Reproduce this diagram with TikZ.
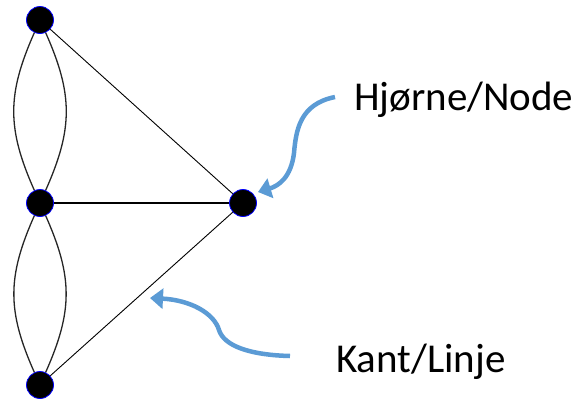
\documentclass[tikz,border=0pt]{standalone}
\usepackage{fontspec}
\setmainfont{Carlito}
\usetikzlibrary{arrows.meta}
\definecolor{pilblue}{HTML}{5B9BD5}

\begin{document}
\begin{tikzpicture}[
  x=1pt, y=-1pt,
  vtx/.style={circle, fill=black, draw=blue, line width=0.8pt, minimum size=27pt, inner sep=0pt},
  ln/.style={black, line width=0.9pt},
  bue/.style={black!85, line width=1.3pt},
  pil/.style={pilblue, line width=4.5pt, -{Triangle[length=13pt, width=20pt]}},
  lbl/.style={anchor=west, inner sep=0pt, font=\fontsize{41}{48}\selectfont},
]
\useasboundingbox (0,0) rectangle (583,399);

% ---- the graph ----
\node[vtx] (top) at (40,20)  {};
\node[vtx] (mid) at (40,203) {};
\node[vtx] (bot) at (40,385) {};
\node[vtx] (rgt) at (243,203) {};

\draw[bue] (top) to[bend left=24, looseness=1.1]  (mid);
\draw[bue] (top) to[bend right=24, looseness=1.1] (mid);
\draw[bue] (mid) to[bend left=24, looseness=1.1]  (bot);
\draw[bue] (mid) to[bend right=24, looseness=1.1] (bot);
\draw[ln] (top) -- (rgt);
\draw[ln, line width=1.4pt] (mid) -- (rgt);
\draw[ln] (bot) -- (rgt);

% ---- labels with their arrows ----
\node[lbl] (hj) at (354,100) {Hjørne/Node};
\node[lbl] (kl) at (336,362) {Kant/Linje};

\coordinate (hjs) at (335,97);
\coordinate (hje) at (258,192);
\draw[pil] (hjs) .. controls (300,104) and (296,130) .. (294,153)
  .. controls (291,178) and (278,186) .. (hje);

\coordinate (kls) at (290,356);
\coordinate (kle) at (150,298);
\draw[pil] (kls) .. controls (250,355) and (224,346) .. (219,330)
  .. controls (214,313) and (190,300) .. (kle);
\end{tikzpicture}
\end{document}
